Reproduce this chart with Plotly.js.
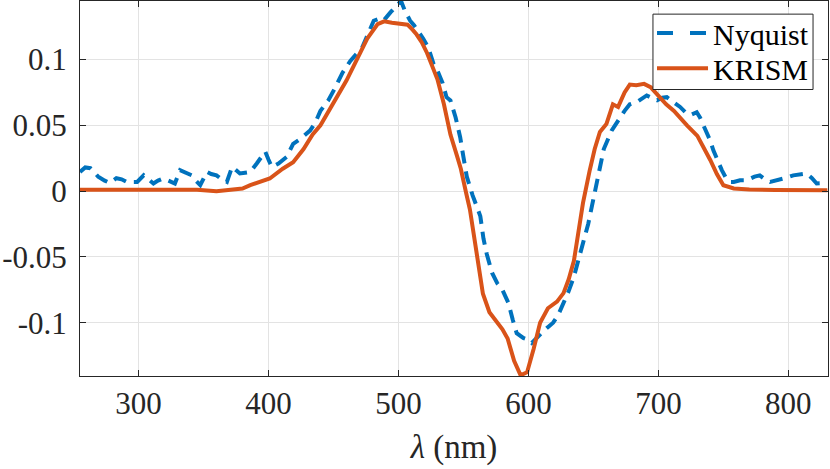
<!DOCTYPE html>
<html>
<head>
<meta charset="utf-8">
<script src="https://cdn.plot.ly/plotly-3.0.1.min.js"></script>
<style>
  body { margin: 0; background: #fff; }
  #chart { width: 830px; height: 469px; }
</style>
</head>
<body>
<div id="chart"></div>
<script type="text/javascript">

    /* * Data * */
    var nyquist_nm = [255, 259, 263, 266, 269, 274, 278, 283, 287, 291, 295, 299, 304, 308, 311.5, 315, 319, 323, 328, 332,
        336, 341, 344, 347.5, 352.6, 356, 360, 364, 368, 372, 375, 378, 382, 386, 391, 397.5, 400, 402.6, 407.7, 414,
        419, 425, 432, 436, 440, 446, 451, 457, 463, 468, 472, 476, 481, 485, 488.5, 494, 499, 502, 505, 509,
        512, 515, 519, 523, 527, 530, 534, 537, 540, 544, 547.5, 550, 552.6, 557, 560, 563, 565.4, 568, 572, 576,
        580, 584.6, 588, 591, 596, 600, 602.6, 607.7, 612, 615.4, 619, 623, 627, 631, 635, 639, 642.3, 646, 650, 654,
        658, 664, 670.5, 674, 678, 684, 691, 695, 699, 703, 706.5, 711, 716.7, 721.8, 725, 729.5, 732, 736, 739.8, 742.3,
        745, 748.8, 752, 755, 758, 762.8, 768, 770.5, 774, 778, 782, 786, 790, 793.6, 798, 803.8, 809, 814, 818, 821.8,
        826, 830];
    var nyquist_val = [0.0146, 0.018, 0.0174, 0.014, 0.011, 0.008, 0.0063, 0.0098, 0.009, 0.007, 0.007, 0.007, 0.012, 0.009, 0.0058, 0.008, 0.0096, 0.008, 0.0058, 0.016,
        0.014, 0.012, 0.008, 0.0045, 0.0146, 0.013, 0.012, 0.009, 0.007, 0.0184, 0.016, 0.0134, 0.014, 0.0146, 0.021, 0.030, 0.024, 0.0184, 0.021, 0.026,
        0.036, 0.040, 0.046, 0.052, 0.061, 0.069, 0.078, 0.090, 0.099, 0.104, 0.109, 0.118, 0.1295, 0.131, 0.1295, 0.136, 0.142, 0.1445, 0.137, 0.1295,
        0.126, 0.122, 0.116, 0.109, 0.0967, 0.0917, 0.082, 0.0714, 0.069, 0.056, 0.041, 0.026, 0.011, -0.003, -0.012, -0.019, -0.036, -0.048, -0.062, -0.070,
        -0.075, -0.085, -0.098, -0.108, -0.1116, -0.113, -0.1154, -0.110, -0.106, -0.103, -0.100, -0.094, -0.085, -0.076, -0.065, -0.050, -0.037, -0.025, -0.006, 0.012,
        0.032, 0.046, 0.056, 0.061, 0.066, 0.068, 0.0727, 0.071, 0.069, 0.071, 0.0714, 0.068, 0.064, 0.059, 0.058, 0.060, 0.056, 0.047, 0.0386, 0.031,
        0.024, 0.016, 0.010, 0.007, 0.007, 0.0083, 0.0083, 0.0096, 0.011, 0.012, 0.009, 0.007, 0.008, 0.0083, 0.010, 0.012, 0.013, 0.0134, 0.010, 0.0058,
        0.006, 0.0058];

    var krism_nm = [255, 270, 290, 310, 330, 345, 360, 372, 380, 386, 393, 401, 411, 419, 427, 434, 440, 450, 460, 468,
        476, 484, 489, 495, 501, 507, 511, 514, 518, 522, 526, 530, 535, 540, 545, 548, 552, 555, 560, 565,
        570, 576, 580, 584, 589, 594, 599, 604, 609, 615, 622, 627, 631, 635, 639, 642, 647, 651, 655, 660,
        665, 669, 674, 678, 683, 689, 694, 701, 706, 712, 717, 722, 730, 735, 740, 745, 750, 758, 770, 790,
        810, 830];
    var krism_val = [0.001, 0.001, 0.0012, 0.0015, 0.0015, 0.001, 0.0, 0.001, 0.002, 0.0045, 0.0068, 0.0096, 0.017, 0.022, 0.032, 0.043, 0.050, 0.067, 0.084, 0.100,
        0.116, 0.127, 0.129, 0.128, 0.1272, 0.1265, 0.1225, 0.119, 0.113, 0.105, 0.095, 0.085, 0.066, 0.043, 0.027, 0.017, -0.001, -0.014, -0.046, -0.078,
        -0.092, -0.100, -0.105, -0.112, -0.129, -0.140, -0.1376, -0.120, -0.100, -0.089, -0.084, -0.0775, -0.067, -0.053, -0.030, -0.009, 0.015, 0.032, 0.045, 0.051,
        0.066, 0.064, 0.075, 0.081, 0.0805, 0.0815, 0.079, 0.0714, 0.066, 0.061, 0.055, 0.050, 0.042, 0.033, 0.0235, 0.013, 0.0045, 0.002, 0.0012, 0.0008,
        0.0008, 0.0007];

    var series_names = ['Nyquist', 'KRISM'];
    var series_colors = ['#0072BD', '#D95319'];
    var series_dash = ['13px,8px', 'solid'];

    var x_tick_vals = [300, 400, 500, 600, 700, 800];
    var y_tick_vals = [-0.1, -0.05, 0, 0.05, 0.1];
    var y_tick_text = ['-0.1', '-0.05', '0', '0.05', '0.1'];

    /* * Chart * */
    var chart_container = document.getElementById('chart');
    var axis_color = '#262626';
    var grid_color = '#e3e3e3';
    var serif = 'Liberation Serif, Times New Roman, serif';

    var data = [{
        x: nyquist_nm,
        y: nyquist_val,
        name: series_names[0],
        type: 'scatter',
        mode: 'lines',
        line: { color: series_colors[0], width: 4, dash: series_dash[0] }
    }, {
        x: krism_nm,
        y: krism_val,
        name: series_names[1],
        type: 'scatter',
        mode: 'lines',
        line: { color: series_colors[1], width: 4, dash: series_dash[1] }
    }];

    /* * Legend box drawn by hand (MATLAB style, compact rows) * */
    var legend_shapes = [{
        type: 'rect', xref: 'paper', yref: 'paper',
        x0: 0.766, x1: 0.980, y0: 0.764, y1: 0.965,
        fillcolor: '#fff', line: { color: axis_color, width: 1 }, layer: 'above'
    }];
    var legend_annotations = [];
    var legend_rows = [0.915, 0.821];
    for (var i = 0; i < series_names.length; i++) {
        legend_shapes.push({
            type: 'line', xref: 'paper', yref: 'paper',
            x0: 0.7714, x1: 0.8396, y0: legend_rows[i], y1: legend_rows[i],
            line: { color: series_colors[i], width: 4, dash: i == 0 ? '16px,17px' : 'solid' }, layer: 'above'
        });
        legend_annotations.push({
            xref: 'paper', yref: 'paper', x: 0.844, y: legend_rows[i] - 0.004,
            xanchor: 'left', yanchor: 'middle', showarrow: false,
            text: series_names[i],
            font: { family: serif, size: 30, color: '#000' }
        });
    }

    var layout = {
        width: 830,
        height: 469,
        margin: { l: 80, r: 2, t: 1, b: 93 },
        paper_bgcolor: '#fff',
        plot_bgcolor: '#fff',
        font: { family: serif, size: 31, color: axis_color },
        showlegend: false,
        shapes: legend_shapes,
        annotations: legend_annotations,
        xaxis: {
            range: [255, 830.5],
            tickvals: x_tick_vals,
            ticks: 'inside', ticklen: 6, tickcolor: axis_color,
            showline: true, linecolor: axis_color, linewidth: 1, mirror: 'ticks',
            showgrid: true, gridcolor: grid_color, gridwidth: 1,
            zeroline: false,
            tickfont: { family: serif, size: 31, color: axis_color },
            title: { text: '<i>λ</i> (nm)', font: { family: serif, size: 33, color: axis_color }, standoff: 14 }
        },
        yaxis: {
            range: [-0.1405, 0.1445],
            tickvals: y_tick_vals,
            ticktext: y_tick_text,
            ticks: 'inside', ticklen: 6, tickcolor: axis_color,
            showline: true, linecolor: axis_color, linewidth: 1, mirror: 'ticks',
            showgrid: true, gridcolor: grid_color, gridwidth: 1,
            zeroline: false,
            ticklabelstandoff: 6,
            tickfont: { family: serif, size: 31, color: axis_color }
        }
    };

    Plotly.newPlot(chart_container, data, layout, { staticPlot: true, displayModeBar: false });

</script>
</body>
</html>
